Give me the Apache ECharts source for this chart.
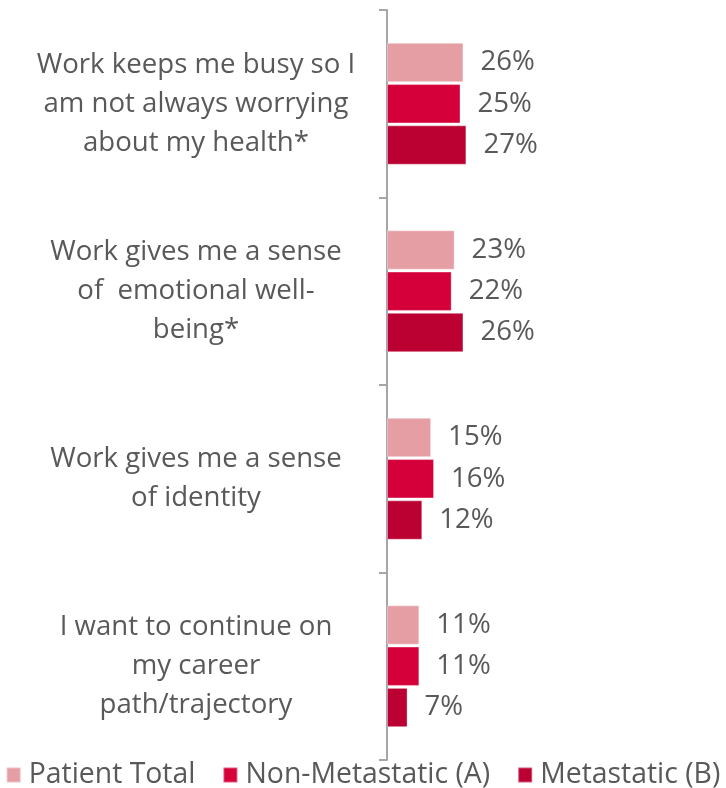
<!DOCTYPE html>
<html>
<head>
<meta charset="utf-8">
<script src="https://cdn.jsdelivr.net/npm/echarts@6/dist/echarts.min.js"></script>
<style>
  html, body { margin: 0; padding: 0; background: #ffffff; }
  #chart { width: 726px; height: 788px; }
</style>
</head>
<body>
<div id="chart"></div>
<script>
// Reasons for working, by patient group (share of respondents, %)
const categories = [
  'Work keeps me busy so I\nam not always worrying\nabout my health*',
  'Work gives me a sense\nof  emotional well-\nbeing*',
  'Work gives me a sense\nof identity',
  'I want to continue on\nmy career\npath/trajectory'
];
const seriesNames = ['Patient Total', 'Non-Metastatic (A)', 'Metastatic (B)'];
const patientTotal = [26, 23, 15, 11];
const nonMetastatic = [25, 22, 16, 11];
const metastatic = [27, 26, 12, 7];
const seriesColors = ['#e69ea5', '#d5003a', '#bb0032'];

const textColor = '#595959';
const fontFamily = '"Open Sans", "Liberation Sans", sans-serif';

const chart = echarts.init(document.getElementById('chart'), null, { renderer: 'canvas' });

const values = [patientTotal, nonMetastatic, metastatic];

chart.setOption({
  animation: false,
  backgroundColor: '#ffffff',
  grid: { left: 387, right: 45, top: 10, bottom: 28, containLabel: false },
  legend: {
    top: 756,
    left: 'center',
    icon: 'rect',
    itemWidth: 14,
    itemHeight: 15,
    itemGap: 27,
    textStyle: { color: textColor, fontSize: 28.4, fontFamily: fontFamily, padding: [0, 0, 0, 3] },
    data: seriesNames
  },
  xAxis: {
    type: 'value',
    min: 0,
    max: 100,
    show: false
  },
  yAxis: {
    type: 'category',
    inverse: true,
    data: categories,
    axisLine: { show: true, lineStyle: { color: '#a6a6a6', width: 2 } },
    axisTick: { show: true, length: 8, lineStyle: { color: '#a6a6a6', width: 2 } },
    axisLabel: {
      align: 'center',
      margin: 191,
      color: textColor,
      fontSize: 27.6,
      lineHeight: 39,
      fontFamily: fontFamily
    }
  },
  series: seriesNames.map((name, i) => ({
    name: name,
    type: 'bar',
    data: values[i],
    barCategoryGap: '35%',
    barGap: '5%',
    itemStyle: { color: seriesColors[i], borderColor: 'rgba(255,255,255,0.35)', borderWidth: 1 },
    label: {
      show: true,
      position: 'right',
      distance: 17,
      formatter: '{c}%',
      color: textColor,
      fontSize: 27.6,
      fontFamily: fontFamily
    }
  }))
});
</script>
</body>
</html>
